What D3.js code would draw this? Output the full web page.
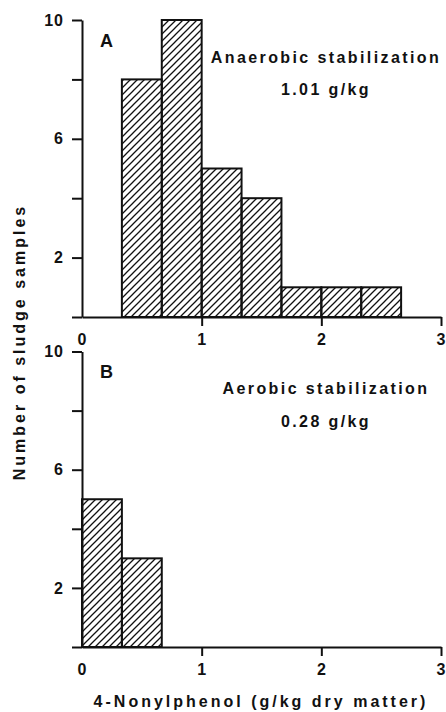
<!DOCTYPE html>
<html>
<head>
<meta charset="utf-8">
<script src="https://cdn.jsdelivr.net/npm/d3@7"></script>
<style>
  body { margin: 0; background: #fff; }
  svg text { font-family: "Liberation Sans", Arial, sans-serif; font-weight: bold; fill: #111; }
</style>
</head>
<body>
<div id="chartContainer"></div>
<script>
// Histogram data: bins are 1/3 g/kg wide, starting at 0
const binEdges = [0, 1/3, 2/3, 1, 4/3, 5/3, 2, 7/3, 8/3];
const countsA = [0, 8, 10, 5, 4, 1, 1, 1];
const countsB = [5, 3, 0, 0, 0, 0, 0, 0];
const xTicks = [0, 1, 2, 3];
const yTicks = [0, 2, 4, 6, 8, 10];
const yTickLabels = [2, 6, 10];
const panelLetters = ["A", "B"];
const panelTitles = ["Anaerobic stabilization", "Aerobic stabilization"];
const panelMeans = ["1.01 g/kg", "0.28 g/kg"];

const width = 446;
const height = 712;
const ink = "#111";

const svg = d3.select("#chartContainer")
  .append("svg")
  .attr("width", width)
  .attr("height", height);

// Diagonal hatch for the bars
const defs = svg.append("defs");
const s = 7;
defs.append("pattern")
  .attr("id", "hatch")
  .attr("patternUnits", "userSpaceOnUse")
  .attr("width", s)
  .attr("height", s)
  .append("path")
  .attr("d", `M0,${s} L${s},0 M-1,1 L1,-1 M${s - 1},${s + 1} L${s + 1},${s - 1}`)
  .attr("stroke", ink)
  .attr("stroke-width", 1.3);

const x = d3.scaleLinear().domain([0, 3]).range([82, 441]);

function drawPanel(counts, top, bottom, i) {
  const y = d3.scaleLinear().domain([0, 10]).range([bottom, top]);
  const g = svg.append("g");

  const bins = counts.map((c, j) => ({ x0: binEdges[j], x1: binEdges[j + 1], count: c }))
    .filter(d => d.count > 0);

  g.selectAll(".bar")
    .data(bins)
    .enter()
    .append("rect")
    .attr("class", "bar")
    .attr("x", d => x(d.x0))
    .attr("y", d => y(d.count))
    .attr("width", d => x(d.x1) - x(d.x0))
    .attr("height", d => y(0) - y(d.count))
    .attr("fill", "url(#hatch)")
    .attr("stroke", ink)
    .attr("stroke-width", 2);

  // x axis
  const xAxis = g.append("g")
    .attr("transform", `translate(0, ${bottom})`)
    .call(d3.axisBottom(x).tickValues(xTicks).tickFormat(d3.format("d"))
      .tickSize(9).tickSizeOuter(0).tickPadding(8));
  xAxis.selectAll(".tick line").attr("stroke-width", 2).filter(d => d === 0).remove();
  xAxis.select(".domain").attr("stroke-width", 2);

  // y axis
  const yAxis = g.append("g")
    .attr("transform", `translate(${x(0)}, 0)`)
    .call(d3.axisLeft(y).tickValues(yTicks).tickSize(10).tickSizeOuter(0).tickPadding(8)
      .tickFormat(d => yTickLabels.includes(d) ? d : ""));
  yAxis.selectAll(".tick line").attr("stroke-width", 2);
  yAxis.select(".domain").attr("stroke-width", 2);

  g.selectAll(".domain, .tick line").attr("stroke", ink);
  g.selectAll(".tick text")
    .attr("fill", ink)
    .attr("font-size", 16)
    .attr("letter-spacing", 1)
    .style("font-family", "inherit");

  // panel annotations
  g.append("text")
    .attr("x", 100)
    .attr("y", top + 26.5)
    .attr("font-size", 18)
    .text(panelLetters[i]);

  g.append("text")
    .attr("x", 326)
    .attr("y", top + 42.5)
    .attr("text-anchor", "middle")
    .attr("font-size", 16)
    .attr("letter-spacing", 2.4)
    .text(panelTitles[i]);

  g.append("text")
    .attr("x", 326)
    .attr("y", top + 75)
    .attr("text-anchor", "middle")
    .attr("font-size", 16)
    .attr("letter-spacing", 2.4)
    .text(panelMeans[i]);
}

drawPanel(countsA, 20, 317, 0);
drawPanel(countsB, 351.5, 647, 1);

// axis titles
svg.append("text")
  .attr("x", 261)
  .attr("y", 707)
  .attr("text-anchor", "middle")
  .attr("font-size", 16)
  .attr("letter-spacing", 3)
  .text("4-Nonylphenol (g/kg dry matter)");

svg.append("text")
  .attr("transform", "translate(25, 342) rotate(-90)")
  .attr("text-anchor", "middle")
  .attr("font-size", 16)
  .attr("letter-spacing", 3)
  .text("Number of sludge samples");
</script>
</body>
</html>
